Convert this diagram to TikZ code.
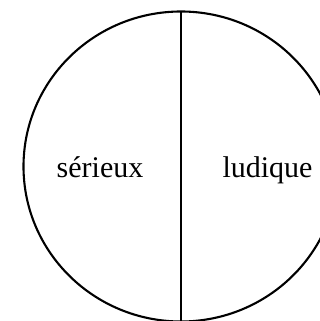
\documentclass[tikz,border=0pt]{standalone}
\usepackage{fontspec}
\setmainfont{Liberation Serif}
\begin{document}
\begin{tikzpicture}[x=1pt,y=-1pt,
  lbl/.style={anchor=base,inner sep=0pt,font=\fontsize{30}{36}\selectfont}]
\useasboundingbox (0,0) rectangle (320,321);
\clip (0,0) rectangle (320,321);
\draw[line width=2.1pt] (181,166.5) ellipse [x radius=157.5, y radius=155];
\coordinate (top) at (181,11);
\coordinate (bot) at (181,330);
\draw[line width=1.4pt] (top) -- (bot);
\node[lbl] (s) at (100,177) {sérieux};
\node[lbl] (l) at (267.5,177) {ludique};
\end{tikzpicture}
\end{document}
